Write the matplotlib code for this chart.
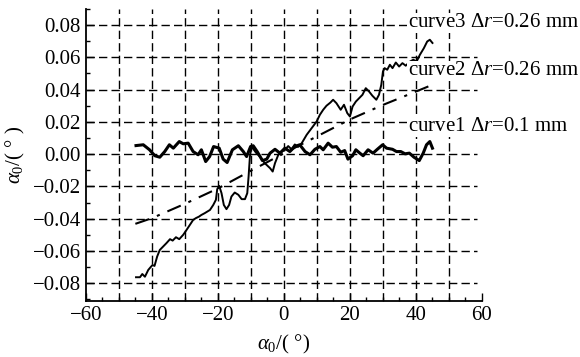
import matplotlib
matplotlib.use("Agg")
import matplotlib.pyplot as plt
import numpy as np

plt.rcParams['font.family'] = ['Liberation Serif', 'DejaVu Serif']
plt.rcParams['mathtext.fontset'] = 'custom'
plt.rcParams['mathtext.rm'] = 'Liberation Serif'
plt.rcParams['mathtext.it'] = 'Liberation Serif:italic'

# curve1: delta r = 0.1 mm (wavy around zero)
c1_x = [-44.8, -42.6, -40.7, -39.1, -37.6, -36.1, -34.7, -33.5, -31.7, -30.5, -29.0, -27.5, -26.0, -25.0,
        -23.7, -22.5, -21.3, -19.6, -18.4, -17.2, -15.6, -13.8, -12.3, -11.3, -10.1, -9.3, -8.1, -6.5,
        -5.2, -4.2, -2.7, -1.2, 0.3, 1.8, 3.3, 4.8, 6.4, 7.9, 9.4, 10.9, 11.9, 13.4, 14.7, 15.9, 17.2,
        18.4, 19.4, 20.8, 21.8, 23.0, 24.0, 25.5, 27.0, 28.3, 29.9, 31.1, 32.9, 34.1, 35.4, 36.7, 38.0,
        39.4, 41.0, 42.2, 43.2, 44.2, 45.0]
c1_y = [0.0053, 0.0058, 0.0027, -0.0010, -0.0019, 0.0016, 0.0058, 0.0037, 0.0078, 0.0064, 0.0068,
        0.0016, -0.0004, 0.0027, -0.0046, -0.0015, 0.0047, 0.0037, -0.0031, -0.0052, 0.0027, 0.0052,
        0.0016, -0.0015, 0.0047, 0.0052, 0.0016, -0.0040, -0.0031, 0.0006, 0.0030, 0.0006, 0.0037,
        0.0016, 0.0047, 0.0058, 0.0016, -0.0004, 0.0030, 0.0047, 0.0027, 0.0068, 0.0043, 0.0047,
        0.0012, 0.0022, -0.0031, -0.0010, 0.0027, 0.0006, -0.0010, 0.0027, 0.0006, 0.0030, 0.0058,
        0.0037, 0.0030, 0.0016, 0.0016, 0.0002, 0.0006, -0.0019, -0.0040, 0.0006, 0.0058, 0.0078, 0.0037]

# curve2: delta r = 0.26 mm (dash-dot, nearly linear)
c2_x = [-45.0, -40.0, -30.0, -20.0, -10.0, 0.0, 10.0, 20.0, 30.0, 40.0, 45.0]
c2_y = [-0.0432, -0.0397, -0.0308, -0.0213, -0.0103, 0.0005, 0.0110, 0.0215, 0.0305, 0.0388, 0.0430]

# curve3: delta r = 0.26 mm (noisy solid)
c3_x = [-44.8, -43.6, -42.9, -42.1, -41.1, -40.4, -39.8, -39.2, -38.4, -37.6, -36.6, -35.6, -34.5,
        -33.7, -32.7, -31.7, -30.5, -29.5, -28.5, -27.5, -26.7, -25.7, -25.0, -24.0, -23.2, -22.4,
        -21.4, -20.6, -20.2, -19.6, -18.9, -18.2, -17.4, -16.6, -15.9, -14.9, -13.8, -12.8, -11.8,
        -11.1, -10.7, -10.3, -9.8, -8.5, -7.3, -5.8, -4.2, -3.4, -2.7, -1.7, -0.7, 0.3, 1.3, 2.3, 3.3,
        4.3, 5.4, 6.9, 8.4, 9.9, 10.9, 11.9, 12.9, 14.1, 14.9, 15.9, 17.2, 18.2, 19.2, 20.0, 20.8,
        21.8, 22.8, 23.8, 24.8, 25.8, 26.8, 28.0, 28.8, 29.5, 30.0, 30.5, 31.3, 32.1, 32.9, 33.9,
        34.9, 35.9, 36.9, 38.2, 39.2, 40.2, 41.2, 42.4, 43.4, 44.2, 45.0]
c3_y = [-0.0763, -0.0763, -0.0743, -0.0760, -0.0718, -0.0701, -0.0687, -0.0693, -0.0635, -0.0594,
        -0.0573, -0.0552, -0.0527, -0.0536, -0.0515, -0.0527, -0.0500, -0.0470, -0.0439, -0.0408,
        -0.0397, -0.0387, -0.0377, -0.0366, -0.0356, -0.0346, -0.0315, -0.0283, -0.0217, -0.0197,
        -0.0242, -0.0315, -0.0341, -0.0315, -0.0263, -0.0238, -0.0252, -0.0279, -0.0279, -0.0242,
        -0.0139, -0.0015, 0.0047, 0.0010, -0.0015, -0.0056, -0.0087, -0.0108, -0.0056, -0.0004,
        0.0016, 0.0027, 0.0050, 0.0030, 0.0060, 0.0045, 0.0068, 0.0120, 0.0161, 0.0202, 0.0244,
        0.0275, 0.0300, 0.0320, 0.0337, 0.0316, 0.0275, 0.0306, 0.0254, 0.0233, 0.0295, 0.0326,
        0.0347, 0.0368, 0.0409, 0.0388, 0.0362, 0.0337, 0.0368, 0.0430, 0.0512, 0.0533, 0.0523,
        0.0554, 0.0533, 0.0568, 0.0543, 0.0564, 0.0548, 0.0574, 0.0585, 0.0574, 0.0616, 0.0657,
        0.0698, 0.0709, 0.0689]

labels = ["curve3 Δ$r$=0.26 mm", "curve2 Δ$r$=0.26 mm", "curve1 Δ$r$=0.1 mm"]
label_pos = [(37.6, 0.0815), (37.6, 0.0517), (37.6, 0.0169)]

xticks = [-60, -40, -20, 0, 20, 40, 60]
yticks = [-0.08, -0.06, -0.04, -0.02, 0.00, 0.02, 0.04, 0.06, 0.08]
xgrid = [-50, -40, -30, -20, -10, 0, 10, 20, 30, 40, 50]

fig = plt.figure(figsize=(5.8, 3.57), dpi=100)
ax = fig.add_axes([0.148, 0.157, 0.683, 0.818])
xmin, xmax = -60, 60
ymin, ymax = -0.091, 0.090
ax.set_xlim(xmin, xmax)
ax.set_ylim(ymin, ymax)

gkw = dict(colors='black', linewidth=1.0, linestyles=(0, (6, 3)), zorder=1)
ax.vlines(xgrid, ymin, ymax, **gkw)
ax.hlines(yticks, xmin, 58.5, **gkw)

ax.plot(c1_x, c1_y, color='black', linewidth=2.2, zorder=3)
ax.plot(c2_x, c2_y, color='black', linewidth=1.5, linestyle=(0, (7, 4, 1.5, 4)), zorder=3)
ax.plot(c3_x, c3_y, color='black', linewidth=1.4, zorder=3)

for t, (x, y) in zip(labels, label_pos):
    ax.text(x, y, t, fontsize=15, ha='left', va='center', clip_on=False, zorder=4,
            bbox=dict(facecolor='white', edgecolor='none', pad=0.5))

ax.spines['top'].set_visible(False)
ax.spines['right'].set_visible(False)
ax.spines['left'].set_linewidth(1.3)
ax.spines['bottom'].set_linewidth(1.3)

ax.set_xticks(xticks)
ax.set_xticks(np.arange(-55, 60, 5), minor=True)
ax.set_yticks(yticks)
ax.set_yticks(np.arange(-0.09, 0.091, 0.01), minor=True)
ax.set_xticklabels([str(v).replace('-', '\u2212') for v in xticks])
ax.set_yticklabels([f"{v:.2f}".replace('-', '\u2212') for v in yticks])
ax.tick_params(which='both', direction='in', labelsize=15, width=1.0)
ax.tick_params(which='major', length=6)
ax.tick_params(which='minor', length=3)

ax.set_xlabel(r"$\alpha_0$/( °)", fontsize=15, labelpad=6)
ax.set_ylabel(r"$\alpha_0$/( ° )", fontsize=15, labelpad=4)

fig.savefig("out.png", dpi=100)
